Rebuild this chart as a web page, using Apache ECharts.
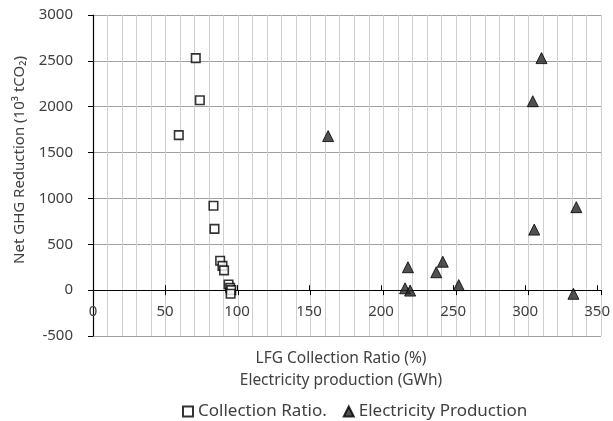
<!DOCTYPE html>
<html>
<head>
<meta charset="utf-8">
<script src="https://cdn.jsdelivr.net/npm/echarts@6/dist/echarts.min.js"></script>
<style>html,body{margin:0;padding:0;background:#fff;}#c{width:613px;height:421px;}</style>
</head>
<body>
<div id="c"></div>
<script>
const collectionX = [70.8, 73.6, 59.1, 83.0, 83.7, 87.6, 89.2, 90.3, 93.4, 94.5, 95.3, 94.8];
const collectionY = [2530, 2070, 1690, 920, 668, 320, 265, 215, 62, 25, 0, -40];
const electricityX = [309, 303, 162, 333, 304, 241, 217, 236.5, 252, 215, 218.5, 331];
const electricityY = [2530, 2060, 1680, 905, 660, 310, 250, 195, 55, 20, -5, -40];
const xTicks = [0, 50, 100, 150, 200, 250, 300, 350];
const yTicks = [-500, 0, 500, 1000, 1500, 2000, 2500, 3000];

const font = 'Noto Sans';
const txt = '#404040';
const H = 421, gTop = 15, gBottom = 85;
const yMin = yTicks[0], yMax = yTicks[yTicks.length - 1];
const zeroFromBottom = gBottom + (0 - yMin) / (yMax - yMin) * (H - gTop - gBottom);

const chart = echarts.init(document.getElementById('c'));
chart.setOption({
  animation: false,
  textStyle: { fontFamily: font },
  graphic: [{
    type: 'text', x: 20, y: 160, rotation: Math.PI / 2,
    style: { text: 'Net GHG Reduction (10³ tCO₂)', fontFamily: font, fontSize: 15, fill: txt,
             align: 'center', verticalAlign: 'middle' }
  }, {
    type: 'text', x: 341, y: 348,
    style: { text: 'LFG Collection Ratio (%)\nElectricity production (GWh)', fontFamily: font,
             fontSize: 15.5, fill: txt, align: 'center', verticalAlign: 'top', lineHeight: 22 }
  }],
  legend: {
    top: 398, left: 177, itemGap: 16, itemWidth: 10, itemHeight: 10,
    textStyle: { fontFamily: font, fontSize: 17, color: txt },
    data: ['Collection Ratio.', 'Electricity Production']
  },
  grid: [
    { left: 93, right: 12, top: gTop, bottom: gBottom },
    { left: 93, right: 12, top: gTop, bottom: zeroFromBottom }
  ],
  xAxis: [{
    gridIndex: 0, type: 'value', min: xTicks[0], max: xTicks[xTicks.length - 1], interval: 50,
    axisLine: { onZero: true, lineStyle: { color: '#000', width: 1.2 } },
    axisTick: { show: true, length: 5, lineStyle: { color: '#000' } },
    axisLabel: { show: false },
    minorTick: { show: false, splitNumber: 5 },
    splitLine: { show: true, lineStyle: { color: '#cfcfcf', width: 1 } },
    minorSplitLine: { show: true, lineStyle: { color: '#cfcfcf', width: 1 } }
  }, {
    gridIndex: 1, type: 'value', position: 'bottom', min: xTicks[0], max: xTicks[xTicks.length - 1], interval: 50,
    axisLine: { show: false },
    axisTick: { show: true, inside: true, length: 5, lineStyle: { color: '#000' } },
    axisLabel: { show: true, margin: 14, fontSize: 15, color: txt, fontFamily: font },
    splitLine: { show: false }
  }],
  yAxis: [{
    gridIndex: 0, type: 'value', min: yMin, max: yMax, interval: 500,
    axisLine: { show: true, onZero: false, lineStyle: { color: '#000', width: 1.2 } },
    axisTick: { show: true, length: 5, lineStyle: { color: '#000' } },
    axisLabel: { margin: 20, fontSize: 15, color: txt, fontFamily: font, formatter: v => String(v) },
    splitLine: { show: true, lineStyle: { color: '#a0a0a0', width: 1 } }
  }, {
    gridIndex: 1, type: 'value', min: 0, max: yMax, show: false
  }],
  series: [{
    name: 'Collection Ratio.', type: 'scatter', symbol: 'rect', symbolSize: 8.5,
    xAxisIndex: 0, yAxisIndex: 0,
    itemStyle: { color: '#fff', borderColor: '#000', borderWidth: 1.6 },
    data: collectionX.map((x, i) => [x, collectionY[i]]), z: 3
  }, {
    name: 'Electricity Production', type: 'scatter', symbol: 'triangle', symbolSize: 11,
    xAxisIndex: 0, yAxisIndex: 0,
    itemStyle: { color: '#262626', borderColor: '#000', borderWidth: 1 },
    data: electricityX.map((x, i) => [x, electricityY[i]]), z: 3
  }]
});
</script>
</body>
</html>
